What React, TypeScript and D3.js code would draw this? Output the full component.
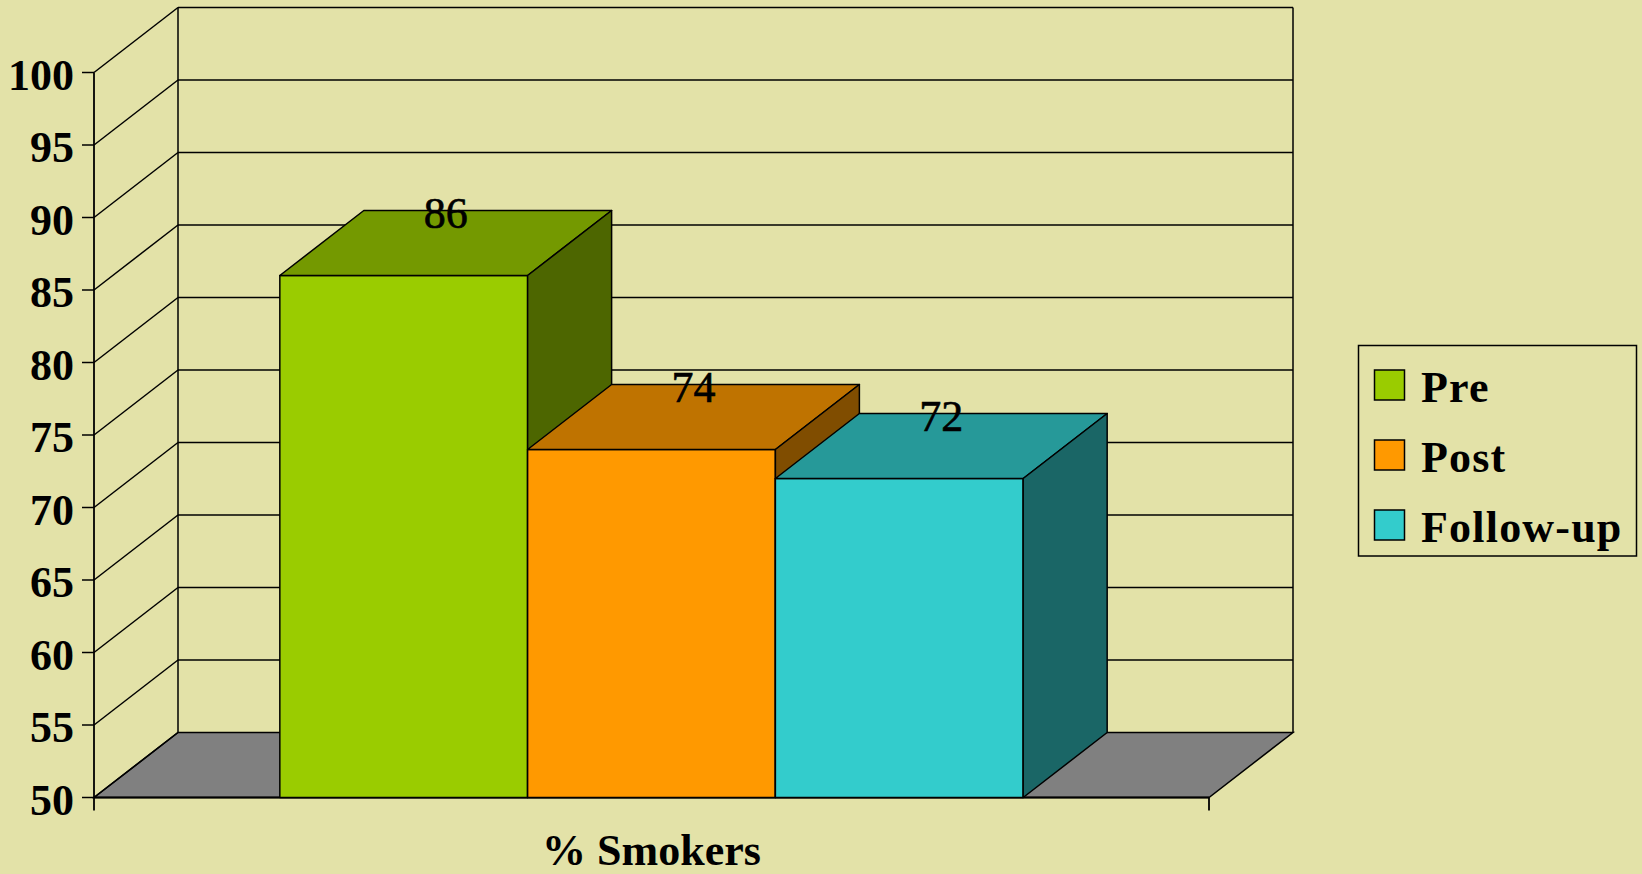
import React from "react";
import * as d3 from "d3";

const category = "% Smokers";
const seriesNames = ["Pre", "Post", "Follow-up"];
const seriesValues = [86, 74, 72];
const seriesColors = ["#9ACC00", "#FF9900", "#33CCCC"];
const yTicks = [50, 55, 60, 65, 70, 75, 80, 85, 90, 95, 100];

const W = 1642;
const H = 874;
const FONT = "'Liberation Serif', 'Times New Roman', serif";

export default function App() {
  const x0 = 94;
  const x1 = 1209;
  const dx = 84;
  const dy = -65;
  const y = d3.scaleLinear().domain([50, 100]).range([797.5, 72.5]);
  const base = y(50);

  const outer = d3.scaleBand<string>().domain([category]).range([x0, x1]).paddingInner(0).paddingOuter(0.25);
  const cx = outer(category)!;
  const inner = d3.scaleBand<string>().domain(seriesNames).range([cx, cx + outer.bandwidth()]).padding(0);

  const shade = (c: string, k: number) => {
    const col = d3.rgb(c);
    return d3.rgb(col.r * k, col.g * k, col.b * k).formatHex();
  };

  const pts = (p: [number, number][]) => p.map((q) => q.join(",")).join(" ");

  return (
    <svg width={W} height={H} style={{ position: "absolute", left: 0, top: 0, display: "block" }}>
      <rect x={0} y={0} width={W} height={H} fill="#E3E2A8" />
      {/* floor */}
      <polygon
        points={pts([[x0, base], [x1, base], [x1 + dx, base + dy], [x0 + dx, base + dy]])}
        fill="#808080"
        stroke="#000"
        strokeWidth={1.5}
      />
      {/* gridlines back wall and side wall */}
      {yTicks.map((t) => (
        <g key={t}>
          {t > 50 && (
            <line x1={x0 + dx} x2={x1 + dx} y1={y(t) + dy} y2={y(t) + dy} stroke="#000" strokeWidth={1.5} />
          )}
          <line x1={x0} y1={y(t)} x2={x0 + dx} y2={y(t) + dy} stroke="#000" strokeWidth={1.5} />
          <line x1={x0 - 12} x2={x0} y1={y(t)} y2={y(t)} stroke="#000" strokeWidth={1.5} />
          <text
            x={74}
            y={y(t) + 17}
            textAnchor="end"
            fontFamily={FONT}
            fontWeight="bold"
            fontSize={44}
            fill="#000"
          >
            {t}
          </text>
        </g>
      ))}
      {/* wall edges */}
      <line x1={x0 + dx} x2={x0 + dx} y1={y(100) + dy} y2={base + dy} stroke="#000" strokeWidth={1.5} />
      <line x1={x1 + dx} x2={x1 + dx} y1={y(100) + dy} y2={base + dy} stroke="#000" strokeWidth={1.5} />
      {/* axes */}
      <line x1={x0} x2={x0} y1={y(100)} y2={base + 13} stroke="#000" strokeWidth={1.8} />
      <line x1={x0} x2={x1} y1={base} y2={base} stroke="#000" strokeWidth={2} />
      <line x1={x1} x2={x1} y1={base} y2={base + 13} stroke="#000" strokeWidth={1.8} />
      {/* bars */}
      {seriesNames.map((s, i) => {
        const bx0 = inner(s)!;
        const bx1 = bx0 + inner.bandwidth();
        const yv = y(seriesValues[i]);
        const c = seriesColors[i];
        return (
          <g key={s} stroke="#000" strokeWidth={1.5} strokeLinejoin="round">
            <rect x={bx0} y={yv} width={bx1 - bx0} height={base - yv} fill={c} />
            <polygon points={pts([[bx0, yv], [bx1, yv], [bx1 + dx, yv + dy], [bx0 + dx, yv + dy]])} fill={shade(c, 0.75)} />
            <polygon points={pts([[bx1, yv], [bx1 + dx, yv + dy], [bx1 + dx, base + dy], [bx1, base]])} fill={shade(c, 0.5)} />
          </g>
        );
      })}
      {/* data labels */}
      {seriesNames.map((s, i) => {
        const bx0 = inner(s)!;
        const mid = bx0 + inner.bandwidth() / 2 + dx / 2;
        const yv = y(seriesValues[i]);
        return (
          <text
            key={s}
            x={mid}
            y={yv + dy / 2 - 15}
            textAnchor="middle"
            fontFamily={FONT}
            fontSize={44}
            fill="#000"
            stroke="#000"
            strokeWidth={0.6}
          >
            {seriesValues[i]}
          </text>
        );
      })}
      {/* x category label */}
      <text x={(x0 + x1) / 2} y={865} textAnchor="middle" fontFamily={FONT} fontWeight="bold" fontSize={44} fill="#000">
        {category}
      </text>
      {/* legend */}
      <rect x={1358.5} y={345.5} width={278} height={210.5} fill="none" stroke="#000" strokeWidth={1.5} />
      {seriesNames.map((s, i) => (
        <g key={s}>
          <rect x={1374.5} y={370 + i * 70} width={30} height={30} fill={seriesColors[i]} stroke="#000" strokeWidth={1.5} />
          <text x={1421} y={401.5 + i * 70} fontFamily={FONT} fontWeight="bold" fontSize={44} letterSpacing={1.2} fill="#000">
            {s}
          </text>
        </g>
      ))}
    </svg>
  );
}
